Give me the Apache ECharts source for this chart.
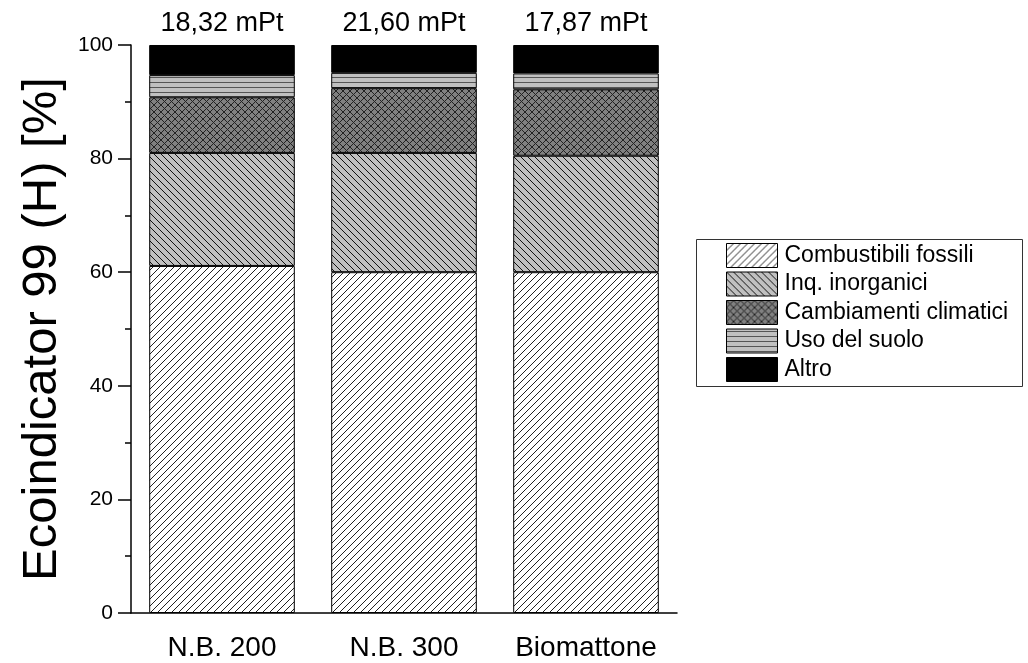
<!DOCTYPE html>
<html>
<head>
<meta charset="utf-8">
<script src="https://cdn.jsdelivr.net/npm/echarts@6/dist/echarts.min.js"></script>
<style>
html,body{margin:0;padding:0;background:#fff;}
#chart{width:1028px;height:663px;}
</style>
</head>
<body>
<div id="chart"></div>
<script>
var categories = ['N.B. 200', 'N.B. 300', 'Biomattone'];
var totals = ['18,32 mPt', '21,60 mPt', '17,87 mPt'];
var seriesNames = ['Combustibili fossili', 'Inq. inorganici', 'Cambiamenti climatici', 'Uso del suolo', 'Altro'];
var combustibili = [61.1, 60.0, 60.0];
var inquinanti = [19.9, 21.0, 20.5];
var cambiamenti = [9.8, 11.4, 11.7];
var suolo = [3.9, 2.7, 2.8];
var altro = [5.3, 4.9, 5.0];
var yTicks = {min: 0, max: 100, interval: 20};

function tile(size, bg, draw) {
  var c = document.createElement('canvas');
  c.width = size; c.height = size;
  var ctx = c.getContext('2d');
  ctx.fillStyle = bg;
  ctx.fillRect(0, 0, size, size);
  draw(ctx, size);
  return {image: c, repeat: 'repeat'};
}
function fwd(ctx, s, col) {
  ctx.strokeStyle = col; ctx.lineWidth = 1;
  ctx.beginPath();
  ctx.moveTo(-1, s + 1); ctx.lineTo(s + 1, -1);
  ctx.moveTo(-1, 1); ctx.lineTo(1, -1);
  ctx.moveTo(s - 1, s + 1); ctx.lineTo(s + 1, s - 1);
  ctx.stroke();
}
function bwd(ctx, s, col) {
  ctx.strokeStyle = col; ctx.lineWidth = 1;
  ctx.beginPath();
  ctx.moveTo(-1, -1); ctx.lineTo(s + 1, s + 1);
  ctx.moveTo(s - 1, -1); ctx.lineTo(s + 1, 1);
  ctx.moveTo(-1, s - 1); ctx.lineTo(1, s + 1);
  ctx.stroke();
}
var patFossil = tile(7, '#ffffff', function (ctx, s) { fwd(ctx, s, '#222'); });
var patInq = tile(7, '#c0c0c0', function (ctx, s) { bwd(ctx, s, '#111'); });
var patClima = tile(7, '#808080', function (ctx, s) { fwd(ctx, s, '#222'); bwd(ctx, s, '#222'); });
var patSuolo = tile(5, '#c0c0c0', function (ctx, s) {
  ctx.fillStyle = '#555'; ctx.fillRect(0, 2, s, 1);
});
var colors = [patFossil, patInq, patClima, patSuolo, '#000000'];
var values = [combustibili, inquinanti, cambiamenti, suolo, altro];

var series = seriesNames.map(function (name, i) {
  var s = {
    name: name,
    type: 'bar',
    stack: 'total',
    xAxisIndex: 0,
    barCategoryGap: '20%',
    data: values[i],
    itemStyle: {color: colors[i], borderColor: '#000', borderWidth: 1},
    emphasis: {disabled: true}
  };
  if (i === seriesNames.length - 1) {
    s.label = {
      show: true, position: 'top', distance: 8,
      fontFamily: 'Liberation Sans', fontSize: 27, color: '#000',
      formatter: function (p) { return totals[p.dataIndex]; }
    };
  }
  return s;
});

var chart = echarts.init(document.getElementById('chart'));
chart.setOption({
  animation: false,
  backgroundColor: '#fff',
  textStyle: {fontFamily: 'Liberation Sans'},
  grid: {left: 131, right: 351, top: 45, bottom: 50, outerBoundsMode: 'none', containLabel: false},
  legend: {
    orient: 'vertical',
    left: 726, top: 243, padding: 0,
    itemWidth: 51, itemHeight: 24, itemGap: 3.5,
    icon: 'rect',
    itemStyle: {borderColor: '#000', borderWidth: 1},
    textStyle: {fontFamily: 'Liberation Sans', fontSize: 23, color: '#000', padding: [0, 0, 0, 2]},
    selectedMode: false,
    data: seriesNames
  },
  graphic: [{
    type: 'rect', left: 694, top: 237,
    shape: {width: 326, height: 147},
    style: {fill: 'none', stroke: '#333', lineWidth: 1}
  }],
  xAxis: [{
    type: 'category', data: categories,
    axisLine: {lineStyle: {color: '#000', width: 1.5}},
    axisTick: {alignWithLabel: true, length: 12, lineStyle: {color: '#000', width: 1.5}},
    axisLabel: {interval: 0, fontFamily: 'Liberation Sans', fontSize: 28, color: '#000', margin: 21}
  }, {
    type: 'category', data: categories, position: 'bottom',
    axisLine: {show: false},
    axisTick: {length: 6, lineStyle: {color: '#000', width: 1.5}},
    axisLabel: {show: false}
  }],
  yAxis: {
    type: 'value', min: yTicks.min, max: yTicks.max, interval: yTicks.interval,
    name: 'Ecoindicator 99 (H) [%]', nameLocation: 'middle', nameGap: 64,
    nameTextStyle: {fontFamily: 'Liberation Sans', fontSize: 49, color: '#000'},
    axisLine: {show: true, lineStyle: {color: '#000', width: 1.5}},
    axisTick: {show: true, length: 13, lineStyle: {color: '#000', width: 1.5}},
    minorTick: {show: true, splitNumber: 2, length: 6, lineStyle: {color: '#000', width: 1.5}},
    splitLine: {show: false},
    axisLabel: {fontFamily: 'Liberation Sans', fontSize: 21, color: '#000', margin: 18}
  },
  series: series
});
</script>
</body>
</html>
